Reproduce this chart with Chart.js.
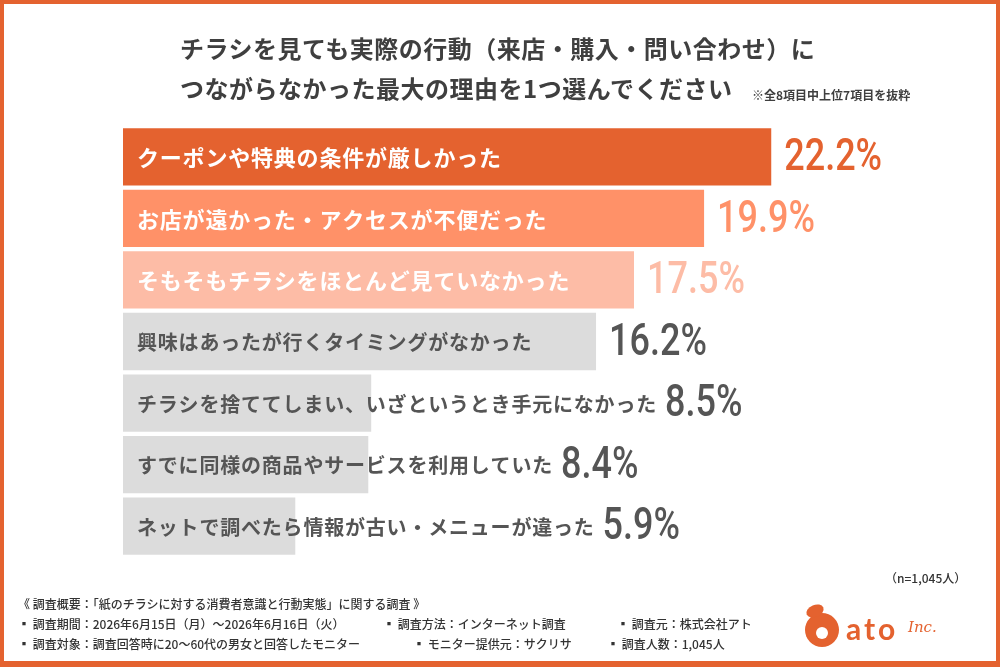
<!DOCTYPE html>
<html lang="ja">
<head>
<meta charset="utf-8">
<title>チラシを見ても行動につながらなかった理由</title>
<script src="https://cdn.jsdelivr.net/npm/chart.js@4/dist/chart.umd.min.js"></script>
<style>
  html, body { margin: 0; padding: 0; background: #fff; }
  body { width: 1000px; height: 667px; position: relative; overflow: hidden;
    font-family: "Noto Sans CJK JP", "Noto Sans", sans-serif; color: #3f3f3f; }
  .frame { position: absolute; left: 0; top: 0; width: 1000px; height: 667px; box-sizing: border-box;
    border: 4px solid #e4622f; border-bottom-width: 6px; }
  #ChartCanvas { position: absolute; left: 0; top: 0; }
  .title { position: absolute; left: 180px; font-weight: 700; font-size: 24px; letter-spacing: 0.5px;
    color: #3f3f3f; white-space: nowrap; line-height: 1; }
  .note { position: absolute; left: 752px; top: 86px; font-size: 12px; font-weight: 700; color: #3f3f3f;
    white-space: nowrap; }
  .foot { position: absolute; font-size: 12px; font-weight: 500; color: #333; white-space: nowrap; line-height: 1; }
</style>
</head>
<body>
<div class="frame"></div>
<canvas id="ChartCanvas" width="1000" height="667"></canvas>
<div class="title" style="top:36px">チラシを見ても実際の行動（来店・購入・問い合わせ）に</div>
<div class="title" style="top:76px">つながらなかった最大の理由を1つ選んでください</div>
<div class="note">※全8項目中上位7項目を抜粋</div>
<div class="foot" style="left:885px; top:572px">（n=1,045人）</div>
<div class="foot" style="left:18px; top:598px">《 調査概要：「紙のチラシに対する消費者意識と行動実態」に関する調査 》</div>
<div class="foot" style="left:18px; top:618px">▪ 調査期間：2026年6月15日（月）〜2026年6月16日（火）</div>
<div class="foot" style="left:383px; top:618px">▪ 調査方法：インターネット調査</div>
<div class="foot" style="left:617px; top:618px">▪ 調査元：株式会社アト</div>
<div class="foot" style="left:18px; top:638px">▪ 調査対象：調査回答時に20〜60代の男女と回答したモニター</div>
<div class="foot" style="left:413px; top:638px">▪ モニター提供元：サクリサ</div>
<div class="foot" style="left:607px; top:638px">▪ 調査人数：1,045人</div>
<script>
// reasons, top 7 of 8
let reasons = [
	'クーポンや特典の条件が厳しかった',
	'お店が遠かった・アクセスが不便だった',
	'そもそもチラシをほとんど見ていなかった',
	'興味はあったが行くタイミングがなかった',
	'チラシを捨ててしまい、いざというとき手元になかった',
	'すでに同様の商品やサービスを利用していた',
	'ネットで調べたら情報が古い・メニューが違った'
];
let shares = [22.2, 19.9, 17.5, 16.2, 8.5, 8.4, 5.9];
let valueLabels = ['22.2%', '19.9%', '17.5%', '16.2%', '8.5%', '8.4%', '5.9%'];

let barColors = ['#e4622f', '#ff9168', '#fdbca6', '#dcdcdc', '#dcdcdc', '#dcdcdc', '#dcdcdc'];
let valueColors = ['#e4622f', '#ff9168', '#fdbca6', '#555555', '#555555', '#555555', '#555555'];

var barText = {
	id: 'barText',
	afterDatasetsDraw: function(chart) {
		var ctx = chart.ctx;
		var bars = chart.getDatasetMeta(0).data;
		ctx.save();
		ctx.textBaseline = 'middle';
		ctx.textAlign = 'left';
		bars.forEach(function(bar, i) {
			var orange = i < 3;
			ctx.font = (orange ? '700 22px' : '700 20px') + ' "Noto Sans CJK JP", sans-serif';
			ctx.letterSpacing = orange ? '0.8px' : '0.8px';
			ctx.fillStyle = orange ? '#ffffff' : '#555555';
			var lx = bar.base + 14;
			ctx.fillText(reasons[i], lx, bar.y + 1);
			var labelEnd = lx + ctx.measureText(reasons[i]).width;
			ctx.letterSpacing = '0px';
			// narrow digits: squeeze Roboto horizontally
			ctx.font = '500 45px Roboto, sans-serif';
			ctx.fillStyle = valueColors[i];
			var vx = Math.max(bar.x + 13, labelEnd + 8);
			ctx.save();
			ctx.translate(vx, bar.y + 2);
			ctx.scale(0.8, 1);
			ctx.fillText(valueLabels[i], 0, 0);
			ctx.restore();
		});
		ctx.restore();
	},
	afterDraw: function(chart) {
		// company mark, bottom right
		var ctx = chart.ctx;
		ctx.save();
		ctx.fillStyle = '#e4622f';
		ctx.beginPath();
		ctx.arc(822, 630, 17, 0, Math.PI * 2);
		ctx.fill();
		ctx.beginPath();
		ctx.ellipse(815, 611, 9, 6, -0.4, 0, Math.PI * 2);
		ctx.fill();
		ctx.fillStyle = '#ffffff';
		ctx.beginPath();
		ctx.arc(822, 633, 6, 0, Math.PI * 2);
		ctx.fill();
		ctx.fillStyle = '#e4622f';
		ctx.font = '700 30px Lato, sans-serif';
		ctx.letterSpacing = '3px';
		ctx.textBaseline = 'alphabetic';
		ctx.fillText('ato', 846, 640);
		ctx.letterSpacing = '0px';
		ctx.font = 'italic 15px "DejaVu Serif", serif';
		ctx.fillText('Inc.', 908, 632);
		ctx.restore();
	}
};

var ctx = document.getElementById('ChartCanvas').getContext('2d');
var chart = new Chart(ctx, {
	type: 'bar',
	data: {
		labels: reasons,
		datasets: [{
			label: '最大の理由',
			data: shares,
			backgroundColor: barColors,
			borderWidth: 0,
			barPercentage: 0.93,
			categoryPercentage: 1
		}]
	},
	options: {
		indexAxis: 'y',
		responsive: false,
		animation: false,
		devicePixelRatio: 1,
		layout: { padding: { left: 123, right: 147, top: 126, bottom: 110 } },
		scales: {
			x: { min: 0, max: 25, display: false },
			y: { display: false }
		},
		plugins: {
			legend: { display: false },
			tooltip: { enabled: false }
		}
	},
	plugins: [barText]
});
</script>
</body>
</html>
